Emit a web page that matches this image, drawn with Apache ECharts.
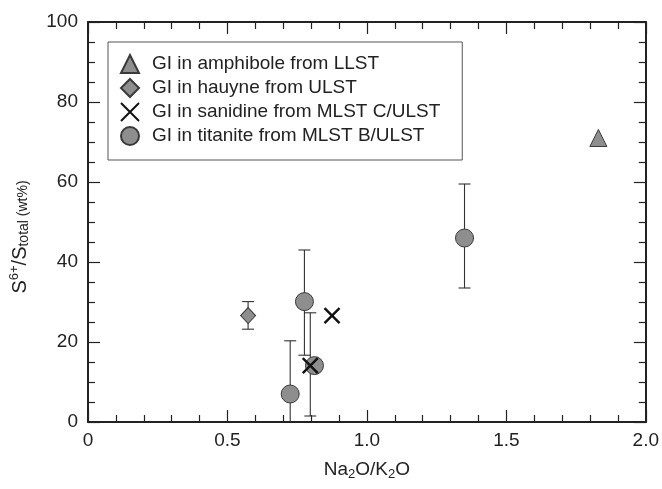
<!DOCTYPE html>
<html><head><meta charset="utf-8">
<script src="https://cdn.jsdelivr.net/npm/echarts@6/dist/echarts.min.js"></script>
<style>html,body{margin:0;padding:0;background:#fff}#c{width:662px;height:489px}</style>
</head><body><div id="c"></div>
<script>
// ---- data ----
const amphX = [1.83];
const amphY = [71];
const hauyneX = [0.574];
const hauyneY = [26.6];
const hauyneLo = [23.2];
const hauyneHi = [30.1];
const sanidineX = [0.875, 0.797];
const sanidineY = [26.6, 14.1];
const sanidineLo = [null, 1.5];
const sanidineHi = [null, 27.3];
const titaniteX = [0.725, 0.776, 0.812, 1.35];
const titaniteY = [7, 30.1, 14.1, 46];
const titaniteLo = [-6.3, 16.7, null, 33.5];
const titaniteHi = [20.3, 43, null, 59.5];
const seriesNames = ['GI in amphibole from LLST', 'GI in hauyne from ULST', 'GI in sanidine from MLST C/ULST', 'GI in titanite from MLST B/ULST'];
const xTicks = [0, 0.5, 1.0, 1.5, 2.0];
const yTicks = [0, 20, 40, 60, 80, 100];

const FONT = 'Liberation Sans, Arial, sans-serif';
const GRAY = '#8e8e8e';
const EDGE = '#3a3a3a';
const TXT = '#222';

function pts(xs, ys) { return xs.map((x, i) => [x, ys[i]]); }
function errs(xs, lo, hi) {
  const out = [];
  xs.forEach((x, i) => { if (lo[i] != null && hi[i] != null) out.push([x, lo[i], hi[i]]); });
  return out;
}
const errData = [].concat(errs(hauyneX, hauyneLo, hauyneHi), errs(sanidineX, sanidineLo, sanidineHi), errs(titaniteX, titaniteLo, titaniteHi));

const chart = echarts.init(document.getElementById('c'), null, {renderer: 'canvas'});
const axisCommon = {
  axisLine: {show: true, onZero: false, lineStyle: {color: '#222', width: 2}},
  splitLine: {show: false},
};
const xFmt = v => v === 0 ? '0' : v.toFixed(1);
chart.setOption({
  animation: false,
  backgroundColor: '#fff',
  textStyle: {fontFamily: FONT},
  grid: {left: 88, right: 15, top: 22, bottom: 67},
  legend: {
    orient: 'vertical', left: 108, top: 42,
    backgroundColor: '#fff',
    borderColor: '#555', borderWidth: 1,
    padding: [12, 22, 14, 12],
    itemGap: 4, itemWidth: 18, itemHeight: 18,
    textStyle: {fontSize: 19, color: TXT, fontFamily: FONT, padding: [0, 0, 0, 8]},
    data: seriesNames
  },
  xAxis: [
    Object.assign({}, axisCommon, {
      type: 'value', min: 0, max: 2, interval: 0.5, position: 'bottom',
      axisTick: {show: true, inside: true, length: 12, lineStyle: {color: '#222', width: 1.2}},
      minorTick: {show: true, splitNumber: 5, length: 7, lineStyle: {color: '#222', width: 1.2}},
      axisLabel: {fontSize: 19, color: TXT, margin: 9, formatter: xFmt},
      name: '{m|Na}{s|2}{m|O/K}{s|2}{m|O}', nameLocation: 'middle', nameGap: 37,
      nameTextStyle: {rich: {m: {fontSize: 19, color: TXT, fontFamily: FONT}, s: {fontSize: 13, color: TXT, fontFamily: FONT, padding: [9, 0, 0, 0]}}}
    }),
    Object.assign({}, axisCommon, {
      type: 'value', min: 0, max: 2, interval: 0.5, position: 'top',
      axisTick: {show: true, inside: true, length: 12, lineStyle: {color: '#222', width: 1.2}},
      minorTick: {show: true, splitNumber: 5, length: 7, lineStyle: {color: '#222', width: 1.2}},
      axisLabel: {show: false}
    })
  ],
  yAxis: [
    Object.assign({}, axisCommon, {
      type: 'value', min: 0, max: 100, interval: 20, position: 'left',
      axisTick: {show: true, inside: true, length: 12, lineStyle: {color: '#222', width: 1.2}},
      minorTick: {show: true, splitNumber: 4, length: 7, lineStyle: {color: '#222', width: 1.2}},
      axisLabel: {fontSize: 19, color: TXT, margin: 10},
      name: '{m|S}{sup|6+}{m|/S}{sub|total}{p| (wt%)}', nameLocation: 'middle', nameGap: 56, nameRotate: 90,
      nameTextStyle: {padding: [0, 30, 0, 0], rich: {
        m: {fontSize: 20, color: TXT, fontFamily: FONT},
        sup: {fontSize: 13, color: TXT, fontFamily: FONT, padding: [0, 0, 11, 0]},
        sub: {fontSize: 14, color: TXT, fontFamily: FONT, padding: [9, 0, 0, 0]},
        p: {fontSize: 14, color: TXT, fontFamily: FONT, padding: [7, 0, 0, 0]}
      }}
    }),
    Object.assign({}, axisCommon, {
      type: 'value', min: 0, max: 100, interval: 20, position: 'right',
      axisTick: {show: true, inside: true, length: 12, lineStyle: {color: '#222', width: 1.2}},
      minorTick: {show: true, splitNumber: 4, length: 7, lineStyle: {color: '#222', width: 1.2}},
      axisLabel: {show: false}
    })
  ],
  series: [
    {
      type: 'custom', name: 'err', clip: true, z: 1, silent: true,
      data: errData,
      renderItem: function (params, api) {
        const x = api.value(0), lo = api.value(1), hi = api.value(2);
        const pLo = api.coord([x, lo]), pHi = api.coord([x, hi]);
        const cw = 6;
        const st = {stroke: '#333', lineWidth: 1.1, fill: null};
        return {type: 'group', children: [
          {type: 'line', shape: {x1: pLo[0], y1: pLo[1], x2: pHi[0], y2: pHi[1]}, style: st},
          {type: 'line', shape: {x1: pLo[0] - cw, y1: pLo[1], x2: pLo[0] + cw, y2: pLo[1]}, style: st},
          {type: 'line', shape: {x1: pHi[0] - cw, y1: pHi[1], x2: pHi[0] + cw, y2: pHi[1]}, style: st}
        ]};
      }
    },
    {
      type: 'scatter', name: seriesNames[0], symbol: 'triangle', symbolSize: [17, 17], z: 3,
      itemStyle: {color: GRAY, borderColor: EDGE, borderWidth: 1, opacity: 1},
      data: pts(amphX, amphY)
    },
    {
      type: 'scatter', name: seriesNames[1], symbol: 'diamond', symbolSize: [15, 16], z: 3,
      itemStyle: {color: GRAY, borderColor: EDGE, borderWidth: 1, opacity: 1},
      data: pts(hauyneX, hauyneY)
    },
    {
      type: 'scatter', name: seriesNames[3], symbol: 'circle', symbolSize: 18, z: 3,
      itemStyle: {color: GRAY, borderColor: EDGE, borderWidth: 1, opacity: 1},
      data: pts(titaniteX, titaniteY)
    },
    {
      type: 'scatter', name: seriesNames[2], symbol: 'path://M0,0L10,10M10,0L0,10', symbolSize: 15, z: 4,
      itemStyle: {color: 'transparent', borderColor: '#111', borderWidth: 2.4, opacity: 1},
      data: pts(sanidineX, sanidineY)
    }
  ]
});
</script></body></html>
